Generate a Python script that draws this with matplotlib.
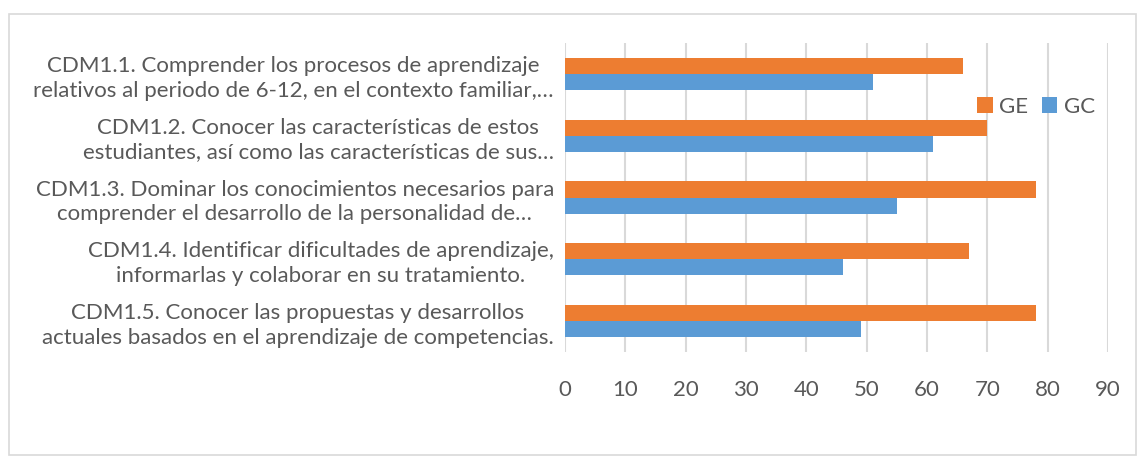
import matplotlib.pyplot as plt
import numpy as np
from matplotlib.patches import Rectangle

plt.rcParams['font.family'] = ['Lato', 'DejaVu Sans']

categories = [
    "CDM1.1. Comprender los procesos de aprendizaje\nrelativos al periodo de 6-12, en el contexto familiar,…",
    "CDM1.2. Conocer las características de estos\nestudiantes, así como las características de sus…",
    "CDM1.3. Dominar los conocimientos necesarios para\ncomprender el desarrollo de la personalidad de…",
    "CDM1.4. Identificar dificultades de aprendizaje,\ninformarlas y colaborar en su tratamiento.",
    "CDM1.5. Conocer las propuestas y desarrollos\nactuales basados en el aprendizaje de competencias.",
]
ge = [66, 70, 78, 67, 78]
gc = [51, 61, 55, 46, 49]
xticks = [0, 10, 20, 30, 40, 50, 60, 70, 80, 90]

orange = '#ed7d31'
blue = '#5b9bd5'
text_color = '#595959'
grid_color = '#d9d9d9'
fs = 16

fig = plt.figure(figsize=(11.45, 4.63), dpi=100)
ax = fig.add_axes([565 / 1145, 1 - 352 / 463, (1108 - 565) / 1145, (352 - 43) / 463])

y = np.arange(len(categories))
h = 0.26
b_ge = ax.barh(y - h / 2, ge, height=h, color=orange, label='GE', zorder=3)
b_gc = ax.barh(y + h / 2, gc, height=h, color=blue, label='GC', zorder=3)

ax.set_ylim(len(categories) - 0.5, -0.5)
ax.set_xlim(0, 90)
ax.set_xticks(xticks)
ax.set_yticks(y, categories)
for lab in ax.get_yticklabels():
    lab.set_multialignment('center')
    lab.set_linespacing(1.3)
ax.tick_params(axis='x', length=0, pad=20, labelsize=fs, labelcolor=text_color)
ax.tick_params(axis='y', length=0, pad=8, labelsize=fs, labelcolor=text_color)
ax.grid(True, axis='x', color=grid_color, linewidth=1.5, zorder=0)
for s in ax.spines.values():
    s.set_visible(False)

ax.legend(handles=[b_ge, b_gc], loc='center', bbox_to_anchor=(1036 / 1145, 1 - 107 / 463),
          bbox_transform=fig.transFigure, ncol=2, frameon=False, fontsize=fs,
          labelcolor=text_color, handlelength=0.7, handleheight=0.7, handletextpad=0.3,
          columnspacing=0.6)

fig.patches.append(Rectangle((9 / 1145, 1 - 455 / 463), (1136 - 9) / 1145, (455 - 14) / 463,
                             transform=fig.transFigure, fill=False, edgecolor=grid_color,
                             linewidth=1.2))

fig.savefig('out.png', dpi=100)
